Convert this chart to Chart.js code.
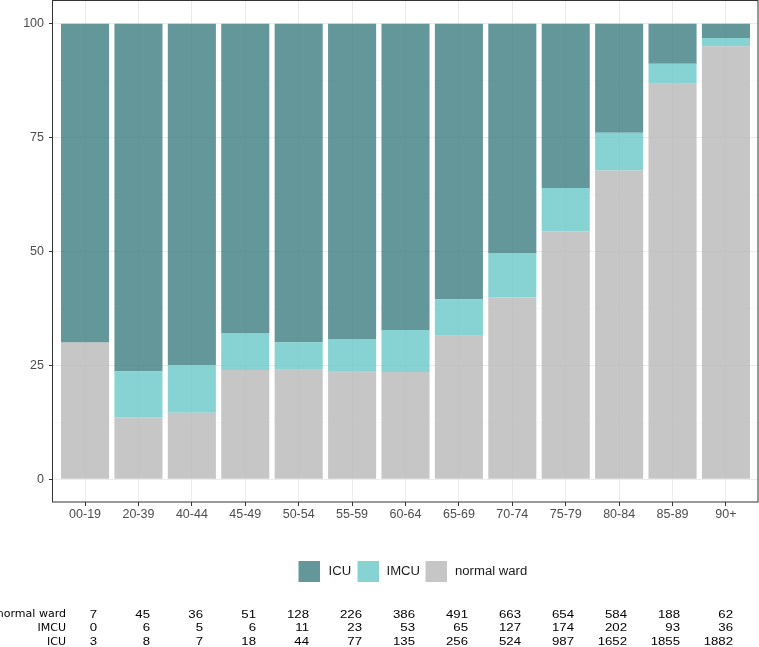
<!DOCTYPE html>
<html>
<head>
<meta charset="utf-8">
<script src="https://cdn.jsdelivr.net/npm/chart.js@4/dist/chart.umd.min.js"></script>
<style>
  body { margin: 0; background: #fff; }
  canvas { display: block; }
</style>
</head>
<body>
<canvas id="chart" width="759" height="647"></canvas>
<script>
// age groups on the x axis
const ageGroups = ['00-19', '20-39', '40-44', '45-49', '50-54', '55-59', '60-64',
                   '65-69', '70-74', '75-79', '80-84', '85-89', '90+'];

// counts as printed in the table under the chart
const normalWardRow = [7, 45, 36, 51, 128, 226, 386, 491, 663, 654, 584, 188, 62];
const imcuRow = [0, 6, 5, 6, 11, 23, 53, 65, 127, 174, 202, 93, 36];
const icuRow = [3, 8, 7, 18, 44, 77, 135, 256, 524, 987, 1652, 1855, 1882];

const yMajorTicks = [0, 25, 50, 75, 100];
const yMinorTicks = [12.5, 37.5, 62.5, 87.5];

const colors = {
  icu: 'rgba(60, 125, 129, 0.8)',
  imcu: 'rgba(105, 200, 200, 0.8)',
  normal: 'rgba(184, 184, 184, 0.8)'
};

const totals = ageGroups.map((g, i) => normalWardRow[i] + imcuRow[i] + icuRow[i]);
function shares(row) {
  return row.map((v, i) => ({ x: i, y: v / totals[i] * 100 }));
}

function drawText(ctx, text, x, y, font, color, align, scaleX) {
  ctx.save();
  ctx.font = font;
  ctx.fillStyle = color;
  ctx.textAlign = align;
  ctx.textBaseline = 'middle';
  ctx.translate(x, y);
  ctx.scale(scaleX || 1, 1);
  ctx.fillText(text, 0, 0);
  ctx.restore();
}

const extras = {
  id: 'extras',
  afterDraw(chart) {
    const ctx = chart.ctx;
    const a = chart.chartArea;

    // panel border
    ctx.save();
    ctx.strokeStyle = '#333333';
    ctx.lineWidth = 1;
    ctx.strokeRect(a.left - 0.5, a.top - 0.5, a.right - a.left + 0.5, a.bottom - a.top + 0.5);
    ctx.restore();

    // legend
    const legendFont = '12.5px "Liberation Sans", Arial, sans-serif';
    const items = [
      { label: 'ICU', color: colors.icu, key: 298.5, text: 328.5 },
      { label: 'IMCU', color: colors.imcu, key: 357.5, text: 386.5 },
      { label: 'normal ward', color: colors.normal, key: 425.5, text: 455 }
    ];
    items.forEach(it => {
      ctx.fillStyle = it.color;
      ctx.fillRect(it.key, 561, 21.5, 21);
      drawText(ctx, it.label, it.text, 571.5, legendFont, '#1a1a1a', 'left', 1.05);
    });

    // count table
    const rows = [
      { label: 'normal ward', values: normalWardRow, y: 614.5 },
      { label: 'IMCU', values: imcuRow, y: 628.3 },
      { label: 'ICU', values: icuRow, y: 642 }
    ];
    rows.forEach(r => {
      drawText(ctx, r.label, 66, r.y, '10.5px "DejaVu Sans", Verdana, sans-serif', '#000', 'right', 1.05);
      r.values.forEach((v, i) => {
        drawText(ctx, String(v), 97 + 53 * i, r.y, '11px "Liberation Sans", Arial, sans-serif', '#000', 'right', 1.2);
      });
    });
  }
};

new Chart(document.getElementById('chart').getContext('2d'), {
  type: 'bar',
  data: {
    datasets: [
      // the grey part of each bar matches the ICU row of the table, the top part the normal ward row
      { label: 'normal ward', data: shares(icuRow), backgroundColor: colors.normal },
      { label: 'IMCU', data: shares(imcuRow), backgroundColor: colors.imcu },
      { label: 'ICU', data: shares(normalWardRow), backgroundColor: colors.icu }
    ]
  },
  options: {
    responsive: false,
    animation: false,
    barPercentage: 0.9,
    categoryPercentage: 1.0,
    layout: { padding: { top: 1, right: 1, left: 0, bottom: 0 } },
    plugins: {
      legend: { display: false },
      tooltip: { enabled: false }
    },
    scales: {
      x: {
        type: 'linear',
        min: -0.6,
        max: 12.6,
        offset: false,
        stacked: true,
        afterBuildTicks(scale) {
          scale.ticks = ageGroups.map((g, i) => ({ value: i }));
        },
        afterFit(scale) {
          scale.height = 145;
          scale.paddingLeft = 0;
          scale.paddingRight = 0;
        },
        border: { display: false },
        grid: { offset: false, color: '#ebebeb', lineWidth: 1, tickLength: 4, tickColor: '#333333', tickWidth: 1 },
        ticks: {
          autoSkip: false,
          maxRotation: 0,
          padding: 1,
          color: '#4d4d4d',
          font: { family: '"Liberation Sans", Arial, sans-serif', size: 12.5 },
          callback: v => ageGroups[v]
        }
      },
      y: {
        min: -5,
        max: 105,
        stacked: true,
        afterBuildTicks(scale) {
          scale.ticks = yMajorTicks.concat(yMinorTicks).sort((p, q) => p - q).map(v => ({ value: v }));
        },
        afterFit(scale) {
          scale.width = 53;
          scale.paddingTop = 0;
          scale.paddingBottom = 0;
        },
        border: { display: false },
        grid: {
          color: c => yMajorTicks.includes(c.tick.value) ? '#ebebeb' : '#f3f3f3',
          lineWidth: c => yMajorTicks.includes(c.tick.value) ? 1 : 0.6,
          tickLength: 4,
          tickColor: c => yMajorTicks.includes(c.tick.value) ? '#333333' : 'rgba(0,0,0,0)',
          tickWidth: 1
        },
        ticks: {
          padding: 5,
          color: '#4d4d4d',
          font: { family: '"Liberation Sans", Arial, sans-serif', size: 12.5 },
          callback: v => yMajorTicks.includes(v) ? String(v) : ''
        }
      }
    }
  },
  plugins: [extras]
});
</script>
</body>
</html>
